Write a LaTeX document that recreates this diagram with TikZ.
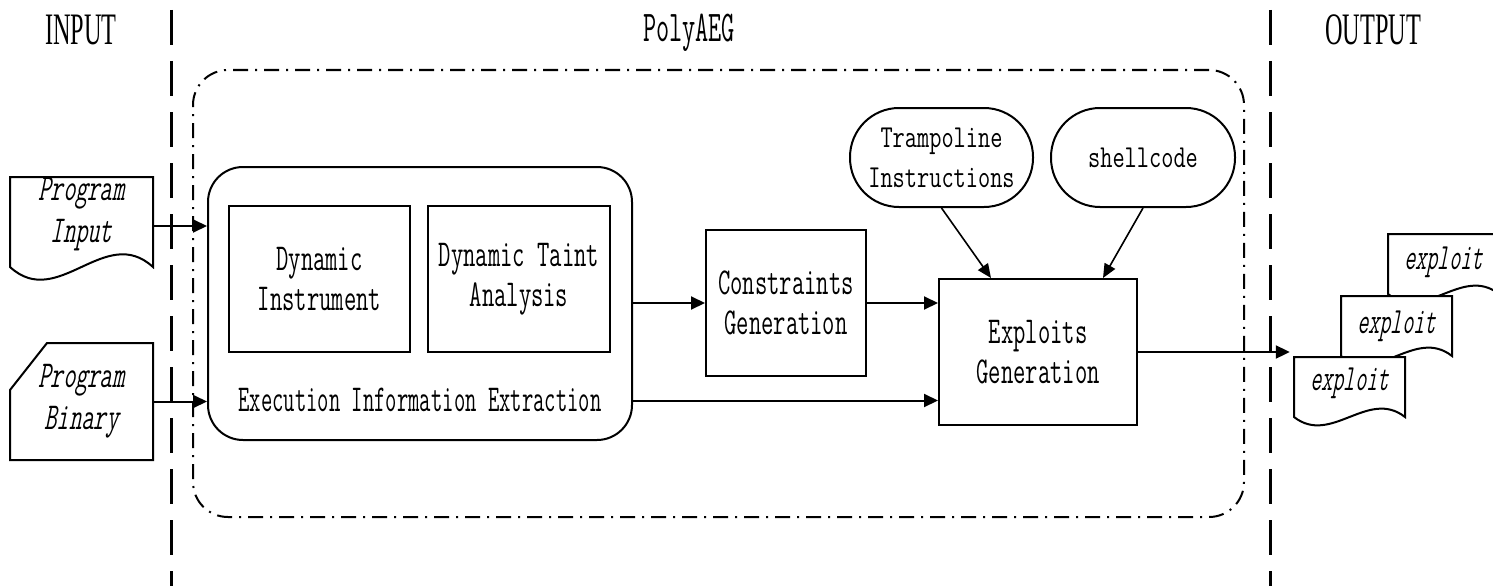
\documentclass[tikz,border=0pt]{standalone}
\usepackage{fontspec}
\setmainfont{Liberation Serif}
% condensed typewriter faces for the labels
\newfontfamily\monoA[FakeStretch=0.63]{Latin Modern Mono}
\newfontfamily\monoB[FakeStretch=0.58]{Latin Modern Mono}
\newfontfamily\monoC[FakeStretch=0.74]{Latin Modern Mono}
\newfontfamily\monoSlA[FakeStretch=0.63,FakeSlant=0.2]{Latin Modern Mono}
\newfontfamily\monoSlB[FakeStretch=0.58,FakeSlant=0.2]{Latin Modern Mono}
\newfontfamily\headfont[FakeStretch=0.54]{Liberation Serif}
\usetikzlibrary{arrows.meta,calc}

% document symbol with a wavy lower edge: left x, top y, width, height, wave dx, wave dy
\newcommand\docoutline[6]{%
  \filldraw[docline] (#1,#2) -- ++(#3,0) -- ++(0,#4)
    .. controls +(-#5,-#6) and +(#5,#6) .. ++(-#3,0) -- cycle;}

\begin{document}
\begin{tikzpicture}[x=1pt,y=-1pt,
  txt/.style={font={\monoA\fontsize{38}{40}\selectfont}, align=center, inner sep=0pt},
  ittxt/.style={font={\monoSlA\fontsize{38}{42}\selectfont}, align=center, inner sep=0pt},
  exptxt/.style={font={\monoSlB\fontsize{37}{40}\selectfont}, align=center, inner sep=0pt},
  headtxt/.style={font={\headfont\fontsize{45}{50}\selectfont}, inner sep=0pt},
  procbox/.style={txt, draw, line width=2pt},
  stadium/.style={draw, line width=2pt, rounded corners=49pt, align=center,
    inner sep=0pt, font={\monoC\fontsize{32}{40}\selectfont}},
  arr/.style={line width=2pt, -{Triangle[length=14pt,width=13pt]}},
  thinarr/.style={line width=1.6pt, -{Triangle[length=14pt,width=12pt]}},
  divider/.style={line width=3pt, dash pattern=on 35pt off 16pt},
  frame/.style={draw, line width=2pt, dash pattern=on 15pt off 7pt on 2pt off 7pt,
    rounded corners=35pt},
  docline/.style={line width=2pt, fill=white}]

\useasboundingbox (0,0) rectangle (1493,586);
\clip (0,0) rectangle (1493,586);

% section headings and separators
\node[headtxt] (input) at (81,30) {INPUT};
\node[headtxt] (output) at (1373,30) {OUTPUT};
\node[txt, font={\monoB\fontsize{44}{48}\selectfont}] (polyaeg) at (689,33) {PolyAEG};
\draw[divider] (171,10) -- (171,586);
\draw[divider] (1270,10) -- (1270,586);

% PolyAEG system boundary
\node[frame, minimum width=1051pt, minimum height=447pt] (poly) at (718.5,293.5) {};

% execution information extraction
\node[draw, line width=2pt, rounded corners=35pt, minimum width=424pt,
  minimum height=273pt] (eie) at (420,303.5) {};
\node[procbox, minimum width=181pt, minimum height=146pt] (din) at (319.5,279) {Dynamic\\Instrument};
\node[procbox, minimum width=182pt, minimum height=146pt] (dta) at (519,279) {Dynamic Taint\\Analysis};
\node[txt, font={\monoB\fontsize{38}{40}\selectfont}] (eielabel) at (420,400) {Execution Information Extraction};

% constraint and exploit generation
\node[procbox, minimum width=160pt, minimum height=146pt] (cg) at (786,303) {Constraints\\Generation};
\node[procbox, minimum width=198pt, minimum height=146pt] (eg) at (1038,352) {Exploits\\Generation};
\node[stadium, minimum width=183pt, minimum height=99pt] (tramp) at (941.5,157.5) {Trampoline\\Instructions};
\node[stadium, minimum width=184pt, minimum height=99pt] (shell) at (1143,157.5) {shellcode};

% inputs
\docoutline{10}{177}{143}{90}{48}{44}
\node[ittxt, minimum width=143pt] (pin) at (81.5,214) {Program\\Input};
\draw[docline] (10,390) -- (47,343) -- (153,343) -- (153,460) -- (10,460) -- cycle;
\node[ittxt, minimum width=143pt] (pbin) at (81.5,401.5) {Program\\Binary};

% outputs
\docoutline{1388}{234}{111}{60}{37}{29}
\docoutline{1341}{296}{111}{60}{37}{29}
\docoutline{1294}{357}{111}{60}{37}{29}
\node[exptxt, minimum width=111pt] (out3) at (1443.5,262) {exploit};
\node[exptxt, minimum width=111pt] (out2) at (1396.5,326) {exploit};
\node[exptxt, minimum width=111pt] (out1) at (1349.5,383) {exploit};

% connectors
\coordinate (pinout) at ($(pin.east)+(0,12)$);
\draw[arr] (pinout) -- (pinout -| eie.west);
\draw[arr] (pbin.east) -- (pbin.east -| eie.west);
\draw[arr] (eie.east |- cg.west) -- (cg.west);
\draw[arr] (cg.east) -- (cg.east -| eg.west);
\coordinate (eiebot) at ($(eie.east)+(0,97)$);
\draw[arr] (eiebot) -- (eiebot -| eg.west);
\draw[thinarr] (tramp.south) -- ($(eg.north west)+(53,0)$);
\draw[thinarr] (shell.south) -- ($(eg.north east)+(-35,0)$);
\draw[arr, shorten >=4pt] (eg.east) -- (eg.east -| out1.west);
\end{tikzpicture}
\end{document}
